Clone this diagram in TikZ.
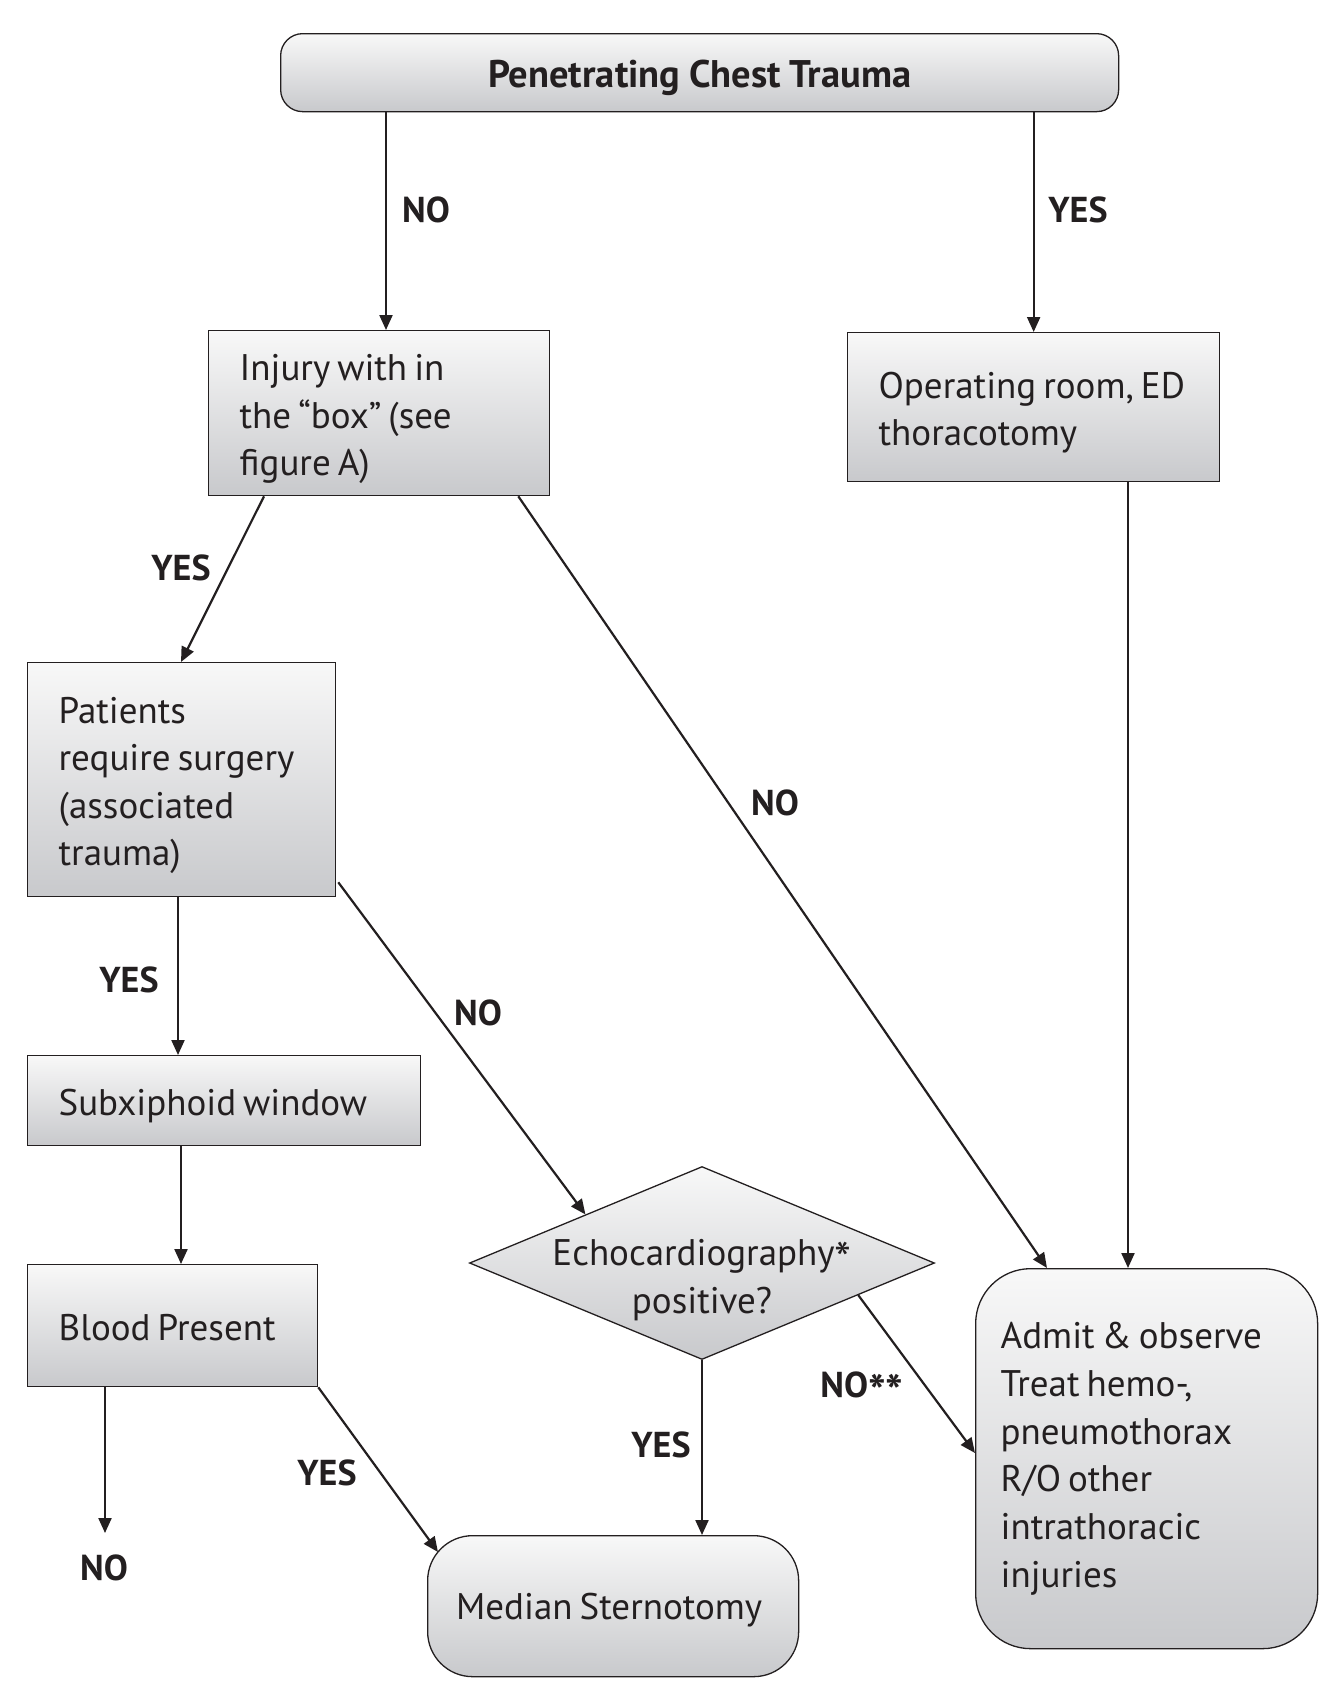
\documentclass[tikz,border=0pt]{standalone}
\usepackage{fontspec}
\setmainfont{PT Sans}
\usetikzlibrary{shapes.geometric,arrows.meta,calc}
\definecolor{txt}{RGB}{35,31,32}
\definecolor{shtop}{RGB}{248,248,248}
\definecolor{shbot}{RGB}{200,201,204}
\newcommand\myast{\raisebox{-0.3em}{\scalebox{1.3}{*}}}
\newcommand\tp{\rule{0pt}{40pt}}
\newcommand\bt{\rule[-10pt]{0pt}{0pt}}
\newcommand\tightsp{\spaceskip=0.19em plus 0.05em minus 0.03em\relax}
\newcommand\titlesp{\spaceskip=0.23em plus 0.05em minus 0.03em\relax}
\newcommand\bodyfont{\fontsize{37}{47.5}\selectfont}
\newcommand\admitfont{\fontsize{37}{47.8}\selectfont}
\newcommand\titlefont{\bfseries\fontsize{38.5}{40}\selectfont}
\begin{document}
\begin{tikzpicture}[x=1pt,y=-1pt,
  base/.style={draw=txt, line width=1.3pt, top color=shtop, bottom color=shbot, text=txt},
  box/.style={base, anchor=north west, align=left, inner xsep=31pt, inner ysep=0pt,
    font=\bodyfont},
  arr/.style={draw=txt, line width=2.2pt, -{Triangle[length=15pt,width=13pt]}},
  lab/.style={text=txt, font=\bfseries\fontsize{36}{40}\selectfont, inner sep=0pt}]
\useasboundingbox (0,0) rectangle (1342,1690);

% nodes
\node[base, anchor=north west, rounded corners=22pt, minimum width=838pt, minimum height=78pt,
  inner sep=0pt, text height=36pt, text depth=6pt, font=\titlefont] (top) at (280,33)
  {\titlesp Penetrating Chest Trauma};
\node[box, text width=279pt, minimum height=165pt] (injury) at (208,330)
  {\tp\tightsp Injury with in\\the “box” (see\\figure A)\bt};
\node[box, text width=310pt, minimum height=149pt] (oproom) at (847,332)
  {\tp\tightsp\mbox{Operating room, ED}\\thoracotomy\bt};
\node[box, text width=246pt, minimum height=234pt] (patients) at (27,662)
  {\tp\tightsp Patients\\require surgery\\(associated\\trauma)\bt};
\node[box, text width=331pt, minimum height=90pt] (subx) at (27,1055) {\tp\tightsp Subxiphoid window\bt};
\node[box, text width=228pt, minimum height=122pt] (blood) at (27,1264) {\tp\tightsp Blood Present\bt};
\node[box, rounded corners=55pt, inner xsep=25pt, text width=292pt, minimum height=380pt,
  font=\admitfont] (admit) at (975,1268)
  {\tightsp Admit \& observe\\Treat hemo-,\\pneumothorax\\R/O other\\intrathoracic\\injuries};
\node[base, anchor=north west, rounded corners=45pt, minimum width=371pt, minimum height=141pt,
  inner sep=0pt, text height=33pt, text depth=6pt, font=\bodyfont] (median) at (427,1535)
  {\tightsp Median Sternotomy\hspace*{8pt}};
\node[base, diamond, minimum width=465pt, minimum height=193pt, inner sep=0pt] (echo) at (702,1263) {};
\node[text=txt, align=center, inner sep=0pt, font=\bodyfont] (echotxt) at (702,1280)
  {\tightsp Echocardiography\myast\\positive?};

% helper coordinates
\coordinate (xa) at (386,0);
\coordinate (xb) at (1128,0);
\coordinate (xc) at (178,0);
\coordinate (xd) at (181,0);
\coordinate (noend) at (105,1533);

% connectors
\draw[arr] (top.south -| xa) -- (injury.north -| xa);
\draw[arr] (oproom.north |- top.south) -- (oproom.north);
\draw[arr] ($(injury.south west)+(56,0)$) -- ($(patients.north west)+(154,0)$);
\draw[arr] ($(injury.south east)+(-32,0)$) -- ($(admit.north west)+(72,0)$);
\draw[arr] (oproom.south -| xb) -- (admit.north -| xb);
\draw[arr] (patients.south -| xc) -- (subx.north -| xc);
\draw[arr] ($(patients.south east)+(2,-15)$) -- (echo.north west);
\draw[arr] (subx.south -| xd) -- (blood.north -| xd);
\draw[arr] (blood.south -| noend) -- (noend);
\draw[arr] (blood.south east) -- ($(median.north west)+(11,17)$);
\draw[arr] ($(echo.east)!0.33!(echo.south)$) -- ($(admit.north west)+(0,185)$);
\draw[arr] (echo.south) -- (median.north -| echo.south);

% labels
\node[lab] (l1) at (426,210) {NO};
\node[lab] (l2) at (1078,210) {YES};
\node[lab] (l3) at (181,568) {YES};
\node[lab] (l4) at (775,803) {NO};
\node[lab] (l5) at (129,980) {YES};
\node[lab] (l6) at (478,1013) {NO};
\node[lab] (l7) at (862,1390) {NO\myast\myast};
\node[lab] (l8) at (661,1445) {YES};
\node[lab] (l9) at (327,1473) {YES};
\node[lab] (l10) at (104,1568) {NO};
\end{tikzpicture}
\end{document}
